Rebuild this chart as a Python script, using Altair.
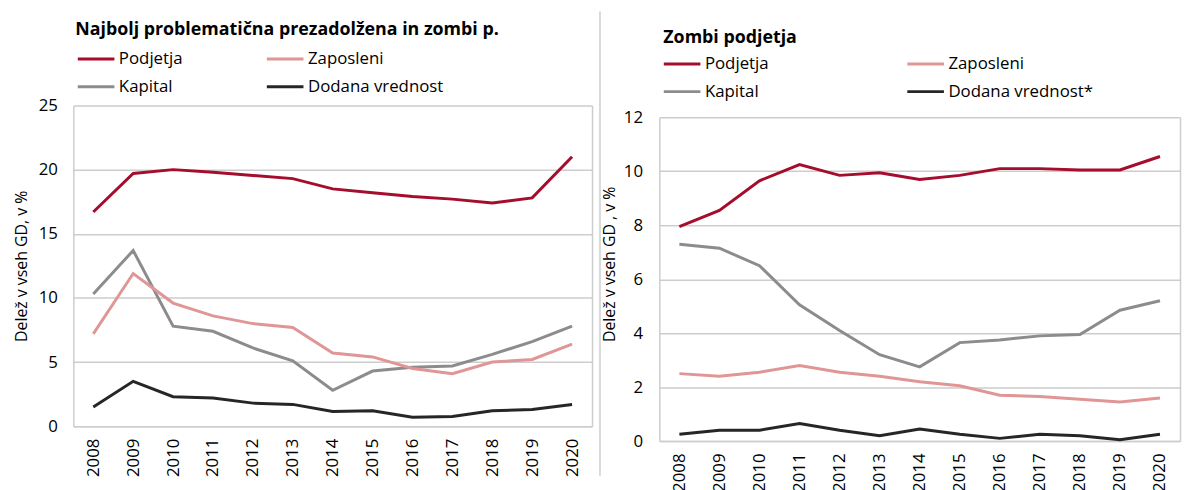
import altair as alt
import pandas as pd

years = [str(y) for y in range(2008, 2021)]

# Left panel: Najbolj problematična prezadolžena in zombi p.
left_series = ["Podjetja", "Kapital", "Zaposleni", "Dodana vrednost"]
left_podjetja = [16.7, 19.7, 20.0, 19.8, 19.55, 19.3, 18.5, 18.2, 17.9, 17.7, 17.4, 17.8, 21.0]
left_zaposleni = [7.2, 11.9, 9.6, 8.6, 8.0, 7.7, 5.7, 5.4, 4.5, 4.1, 5.0, 5.2, 6.4]
left_kapital = [10.3, 13.7, 7.8, 7.4, 6.1, 5.1, 2.8, 4.3, 4.6, 4.7, 5.6, 6.6, 7.8]
left_dodana = [1.5, 3.5, 2.3, 2.2, 1.8, 1.7, 1.15, 1.2, 0.7, 0.75, 1.2, 1.3, 1.7]

# Right panel: Zombi podjetja
right_series = ["Podjetja", "Kapital", "Zaposleni", "Dodana vrednost*"]
right_podjetja = [7.95, 8.55, 9.65, 10.25, 9.85, 9.95, 9.7, 9.85, 10.1, 10.1, 10.05, 10.05, 10.55]
right_zaposleni = [2.5, 2.4, 2.55, 2.8, 2.55, 2.4, 2.2, 2.05, 1.7, 1.65, 1.55, 1.45, 1.6]
right_kapital = [7.3, 7.15, 6.5, 5.05, 4.1, 3.2, 2.75, 3.65, 3.75, 3.9, 3.95, 4.85, 5.2]
right_dodana = [0.25, 0.4, 0.4, 0.65, 0.4, 0.2, 0.45, 0.25, 0.1, 0.25, 0.2, 0.05, 0.25]

colors = ["#a50d2d", "#8c8c8c", "#e09696", "#262626"]
FONT = "Open Sans"
GRID = "#cdcdcd"


def long_df(series, values):
    rows = []
    for name, vals in zip(series, values):
        for y, v in zip(years, vals):
            rows.append({"leto": y, "serija": name, "vrednost": v})
    return pd.DataFrame(rows)


left_df = long_df(left_series, [left_podjetja, left_kapital, left_zaposleni, left_dodana])
right_df = long_df(right_series, [right_podjetja, right_kapital, right_zaposleni, right_dodana])
dummy = pd.DataFrame({"a": [0]})

xaxis = alt.Axis(labelAngle=270, ticks=False, grid=False, domain=True,
                 domainColor=GRID, domainWidth=1.5, labelPadding=12,
                 labelFontSize=17, labelColor="#000000", labelFont=FONT)


def panel(df, series, title, ytitle, ymax, ystep, W, H, top_gap, bnd, sep,
          legend_pos, col_pad, row_pad, title_dx, title_offset, lab_pad, title_pad, title_y):
    yscale = alt.Scale(domain=[0, ymax], nice=False, zero=True, range=[H, top_gap])
    layers = []
    # invisible panel extent (controls the panel's layout box)
    layers.append(alt.Chart(dummy).mark_rect(opacity=0).encode(
        x=alt.value(bnd[0]), x2=alt.value(bnd[1]), y=alt.value(bnd[2]), y2=alt.value(bnd[3])))
    if sep is not None:
        layers.append(alt.Chart(dummy).mark_rect(color="#d9d9d9").encode(
            x=alt.value(sep[0]), x2=alt.value(sep[1]), y=alt.value(bnd[2]), y2=alt.value(bnd[3])))
    yaxis_kw = dict(values=list(range(0, ymax + 1, ystep)), ticks=False, domain=True,
                    domainColor=GRID, domainWidth=1.5,
                    grid=True, gridColor=GRID, gridWidth=1.5,
                    labelPadding=lab_pad, labelFontSize=17, labelColor="#000000", labelFont=FONT,
                    titleFont=FONT, titleFontSize=16, titleFontWeight="normal",
                    titleColor="#000000", titlePadding=title_pad)
    if title_y is not None:
        yaxis_kw["titleY"] = title_y
    lines = alt.Chart(df).mark_line(strokeWidth=3).encode(
        x=alt.X("leto:O", title=None, sort=years, axis=xaxis),
        y=alt.Y("vrednost:Q", title=ytitle, scale=yscale, axis=alt.Axis(**yaxis_kw)),
        color=alt.Color("serija:N", sort=series,
                        scale=alt.Scale(domain=series, range=colors),
                        legend=alt.Legend(title=None, orient="none", legendX=legend_pos[0], legendY=legend_pos[1],
                                          columns=2, columnPadding=col_pad, rowPadding=row_pad,
                                          symbolType="stroke", symbolSize=1369, symbolStrokeWidth=3,
                                          labelFont=FONT, labelFontSize=17, labelColor="#000000",
                                          labelOffset=3, labelLimit=300)),
    )
    layers.append(lines)
    # right-hand frame edge drawn as a label-less axis
    frame = alt.Chart(df).mark_line(strokeOpacity=0).encode(
        x=alt.X("leto:O", sort=years, title=None, axis=xaxis),
        y=alt.Y("vrednost:Q", scale=yscale, title=None,
                axis=alt.Axis(orient="right", labels=False, ticks=False, grid=False,
                              domain=True, domainColor=GRID, domainWidth=1.5)),
        detail="serija:N",
    )
    layers.append(frame)
    return alt.layer(*layers).resolve_scale(y="independent").properties(
        width=W, height=H,
        title=alt.TitleParams(title, anchor="start", frame="group", dx=title_dx, offset=title_offset,
                              font=FONT, fontSize=18, fontWeight="bold", color="#000000"),
    )


# left plot: x 73..597, y 103..427 ; right plot: x 663..1189, y 115..442
left = panel(left_df, left_series, "Najbolj problematična prezadolžena in zombi p.",
             "Delež v vseh GD, v %", 25, 5, 524, 324, 0,
             (-65, 529, -95, 374), None, (3, -67), 78, -10, 2, -28, 16, 9, None)
right = panel(right_df, right_series, "Zombi podjetja",
              "Delež v vseh GD , v %", 12, 2, 526, 339, 12,
              (-61, 527, -95, 374), (-61, -59), (3, -62), 133, -12, 4, -36, 17, 6, 160)

chart = alt.hconcat(left, right, spacing=0).resolve_scale(
    color="independent", y="independent", x="independent"
).resolve_legend(color="independent").properties(
    padding={"left": 0, "top": 0, "right": 0, "bottom": 0},
    background="white",
).configure_view(stroke="transparent")

chart.save("out.html", embed_options={"renderer": "svg", "actions": False})
